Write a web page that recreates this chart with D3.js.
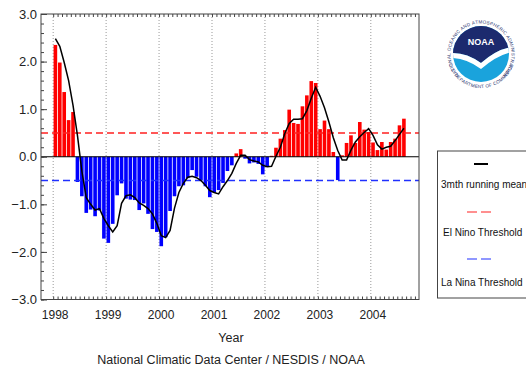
<!DOCTYPE html>
<html>
<head>
<meta charset="utf-8">
<script src="https://cdn.jsdelivr.net/npm/d3@7"></script>
<style>
  body { margin: 0; background: #fff; }
  svg { display: block; font-family: "Liberation Sans", Arial, sans-serif; }
</style>
</head>
<body>
<div id="chart"></div>
<script>
// monthly anomalies, Jan 1998 .. Aug 2004
const startYear = 1998;
const anomaly = [
  2.35, 1.98, 1.36, 0.77, 0.94, -0.53, -0.83, -1.18, -1.11, -1.25, -1.13, -1.72,   // 1998
  -1.81, -1.41, -0.81, -0.56, -0.88, -0.90, -0.91, -1.12, -0.98, -1.20, -1.52, -1.58, // 1999
  -1.88, -1.69, -1.14, -0.83, -0.62, -0.60, -0.45, -0.28, -0.42, -0.50, -0.62, -0.85, // 2000
  -0.75, -0.70, -0.55, -0.30, -0.18, 0.07, 0.16, -0.04, -0.14, -0.12, -0.15, -0.37,   // 2001
  -0.20, 0.02, 0.19, 0.38, 0.56, 0.99, 0.71, 0.69, 1.06, 1.29, 1.59, 1.55,          // 2002
  0.58, 0.76, 0.58, 0.10, -0.49, 0.03, 0.29, 0.45, 0.29, 0.73, 0.57, 0.52,          // 2003
  0.30, 0.14, 0.31, 0.15, 0.31, 0.38, 0.66, 0.80                                    // 2004
];
// 3 month running mean as drawn
const runningMean = [
  2.48, 2.32, 1.98, 1.60, 1.08, 0.45, -0.30, -0.86, -1.00, -1.12, -1.09, -1.30,
  -1.45, -1.58, -1.45, -0.98, -0.82, -0.80, -0.86, -0.97, -1.02, -1.09, -1.20, -1.40,
  -1.66, -1.70, -1.55, -1.08, -0.75, -0.56, -0.43, -0.41, -0.44, -0.50, -0.60, -0.71,
  -0.75, -0.78, -0.63, -0.50, -0.35, -0.14, 0.03, 0.03, -0.06, -0.09, -0.11, -0.18,
  -0.21, -0.20, 0.01, 0.20, 0.49, 0.70, 0.79, 0.79, 0.80, 0.97, 1.23, 1.46,
  1.27, 1.03, 0.73, 0.40, 0.13, -0.07, -0.07, 0.14, 0.31, 0.42, 0.51, 0.59,
  0.45, 0.25, 0.16, 0.20, 0.22, 0.34, 0.47, 0.60
];
const years = [1998, 1999, 2000, 2001, 2002, 2003, 2004];
const yTicks = [-3, -2, -1, 0, 1, 2, 3];
const elNino = 0.5;
const laNina = -0.5;
const legendLabels = ["3mth running mean", "El Nino Threshold", "La Nina Threshold"];

const width = 526, height = 368;
const plotLeft = 41, plotRight = 419, plotTop = 14, plotBottom = 299.5;

const svg = d3.select("#chart").append("svg")
  .attr("width", width).attr("height", height);
svg.append("rect").attr("width", width).attr("height", height).attr("fill", "#fff");

const x = d3.scaleLinear().domain([1997.77, 2004.91]).range([plotLeft, plotRight]);
const y = d3.scaleLinear().domain([-3, 3]).range([plotBottom, plotTop]);

const t = m => startYear + m / 12;

// year grid lines
svg.append("g").selectAll("line").data(years).enter().append("line")
  .attr("x1", d => x(d)).attr("x2", d => x(d))
  .attr("y1", plotTop).attr("y2", plotBottom)
  .attr("stroke", "#999").attr("stroke-width", 1)
  .attr("stroke-dasharray", "1,2");

// bars
svg.append("g").selectAll("rect").data(anomaly).enter().append("rect")
  .attr("x", (d, i) => x(t(i)) + 0.4)
  .attr("width", (d, i) => x(t(i + 1)) - x(t(i)) - 0.8)
  .attr("y", d => y(Math.max(0, d)))
  .attr("height", d => Math.abs(y(d) - y(0)))
  .attr("fill", d => d >= 0 ? "#ff0000" : "#0000ff");

// thresholds
svg.append("line")
  .attr("x1", plotLeft).attr("x2", plotRight).attr("y1", y(elNino)).attr("y2", y(elNino))
  .attr("stroke", "#ff2020").attr("stroke-width", 1.5).attr("stroke-dasharray", "7,4");
svg.append("line")
  .attr("x1", plotLeft).attr("x2", plotRight).attr("y1", y(laNina)).attr("y2", y(laNina))
  .attr("stroke", "#2030ff").attr("stroke-width", 1.5).attr("stroke-dasharray", "7,4");

// zero line
svg.append("line")
  .attr("x1", plotLeft).attr("x2", plotRight).attr("y1", y(0)).attr("y2", y(0))
  .attr("stroke", "#000").attr("stroke-width", 1.2);

// running mean
const line = d3.line()
  .x((d, i) => x(t(i + 0.5)))
  .y(d => y(d));
svg.append("path").datum(runningMean)
  .attr("d", line)
  .attr("fill", "none").attr("stroke", "#000").attr("stroke-width", 1.5);

// frame
svg.append("rect")
  .attr("x", plotLeft).attr("y", plotTop).attr("width", plotRight - plotLeft).attr("height", plotBottom - plotTop)
  .attr("fill", "none").attr("stroke", "#444").attr("stroke-width", 1);

// y axis, ticks pointing inside
const yAxis = svg.append("g").attr("transform", "translate(" + plotLeft + ",0)")
  .call(d3.axisLeft(y).tickValues(yTicks).tickFormat(d3.format(".1f")).tickSize(-6).tickPadding(4));
const yMinor = svg.append("g").attr("transform", "translate(" + plotLeft + ",0)")
  .call(d3.axisLeft(y).tickValues(d3.range(-3, 3.01, 0.2)).tickSize(-3));

// monthly ticks, bottom and top
const monthTicks = d3.range(0, 84).map(t).filter(v => v <= 2004.91);
const xMinor = svg.append("g").attr("transform", "translate(0," + plotBottom + ")")
  .call(d3.axisBottom(x).tickValues(monthTicks).tickSize(-3));
const xTop = svg.append("g").attr("transform", "translate(0," + plotTop + ")")
  .call(d3.axisTop(x).tickValues(monthTicks).tickSize(-3));
const xAxis = svg.append("g").attr("transform", "translate(0," + plotBottom + ")")
  .call(d3.axisBottom(x).tickValues(years).tickFormat(d3.format("d")).tickSize(0).tickPadding(11));

[yMinor, xMinor, xTop].forEach(g => g.selectAll("text").remove());
[yAxis, yMinor, xMinor, xTop, xAxis].forEach(g => {
  g.select(".domain").remove();
  g.selectAll("line").attr("stroke", "#444");
});
yAxis.selectAll("text").attr("font-size", 13).attr("fill", "#222");
xAxis.selectAll("text").attr("font-size", 12).attr("fill", "#222").attr("dx", 1.5);

svg.append("text").attr("x", 231).attr("y", 342)
  .attr("text-anchor", "middle").attr("font-size", 12.5).attr("fill", "#222").text("Year");
svg.append("text").attr("x", 231).attr("y", 364)
  .attr("text-anchor", "middle").attr("font-size", 12.5).attr("fill", "#222")
  .text("National Climatic Data Center / NESDIS / NOAA");

// legend
const lg = svg.append("g");
lg.append("rect").attr("x", 437.5).attr("y", 151).attr("width", 100).attr("height", 147)
  .attr("fill", "#fff").attr("stroke", "#444");
lg.append("line").attr("x1", 474).attr("x2", 488).attr("y1", 164).attr("y2", 164)
  .attr("stroke", "#000").attr("stroke-width", 2);
lg.append("line").attr("x1", 467).attr("x2", 491).attr("y1", 212).attr("y2", 212)
  .attr("stroke", "#ff2020").attr("stroke-width", 1.2).attr("stroke-dasharray", "10,4");
lg.append("line").attr("x1", 467).attr("x2", 491).attr("y1", 259).attr("y2", 259)
  .attr("stroke", "#2030ff").attr("stroke-width", 1.2).attr("stroke-dasharray", "10,4");
lg.selectAll("text.lab").data(legendLabels).enter().append("text")
  .attr("class", "lab")
  .attr("x", (d, i) => [441, 443, 441][i])
  .attr("y", (d, i) => [188, 236, 286][i])
  .attr("font-size", 10).attr("fill", "#111")
  .text(d => d);

// NOAA emblem
const cx = 481, cy = 54;
const defs = svg.append("defs");
defs.append("clipPath").attr("id", "disk").append("circle")
  .attr("cx", cx).attr("cy", cy).attr("r", 28);
const logo = svg.append("g");
logo.append("circle").attr("cx", cx).attr("cy", cy).attr("r", 35).attr("fill", "#fff");
const disk = logo.append("g").attr("clip-path", "url(#disk)");
disk.append("rect").attr("x", cx - 29).attr("y", cy - 29).attr("width", 58).attr("height", 58).attr("fill", "#1aa3dc");
disk.append("path")
  .attr("d", "M450,20 L512,20 L512,47 Q497,49 481,63 Q466,52 450,53 Z")
  .attr("fill", "#1c2a6e");
disk.append("path")
  .attr("d", "M450,53 Q466,52 481,63 Q497,49 512,47 L512,52 Q497,55 481,69 Q466,58 450,58 Z")
  .attr("fill", "#fff");
logo.append("text").attr("x", cx).attr("y", 45).attr("text-anchor", "middle")
  .attr("font-size", 9).attr("font-weight", "bold").attr("fill", "#fff").text("NOAA");

// lettering around the ring, one glyph at a time
function ringText(str, r, onTop) {
  const fs = 4.6;
  const probe = svg.append("text").attr("font-size", fs);
  const widths = str.split("").map(c => {
    probe.text(c === " " ? "\u00a0" : c);
    return probe.node().getComputedTextLength() + 0.25;
  });
  probe.remove();
  const span = d3.sum(widths) / r;
  let a = -span / 2;
  const g = logo.append("g");
  str.split("").forEach((c, i) => {
    const mid = a + widths[i] / 2 / r;
    a += widths[i] / r;
    if (c === " ") return;
    const px = cx + r * Math.sin(mid);
    const py = onTop ? cy - r * Math.cos(mid) : cy + r * Math.cos(mid);
    const rot = (onTop ? mid : -mid) * 180 / Math.PI;
    g.append("text")
      .attr("transform", "translate(" + px + "," + py + ") rotate(" + rot + ")")
      .attr("text-anchor", "middle")
      .attr("font-size", fs).attr("fill", "#2a3570")
      .text(c);
  });
}
ringText("NATIONAL OCEANIC AND ATMOSPHERIC ADMINISTRATION", 30.5, true);
ringText("U.S. DEPARTMENT OF COMMERCE", 34, false);
</script>
</body>
</html>
